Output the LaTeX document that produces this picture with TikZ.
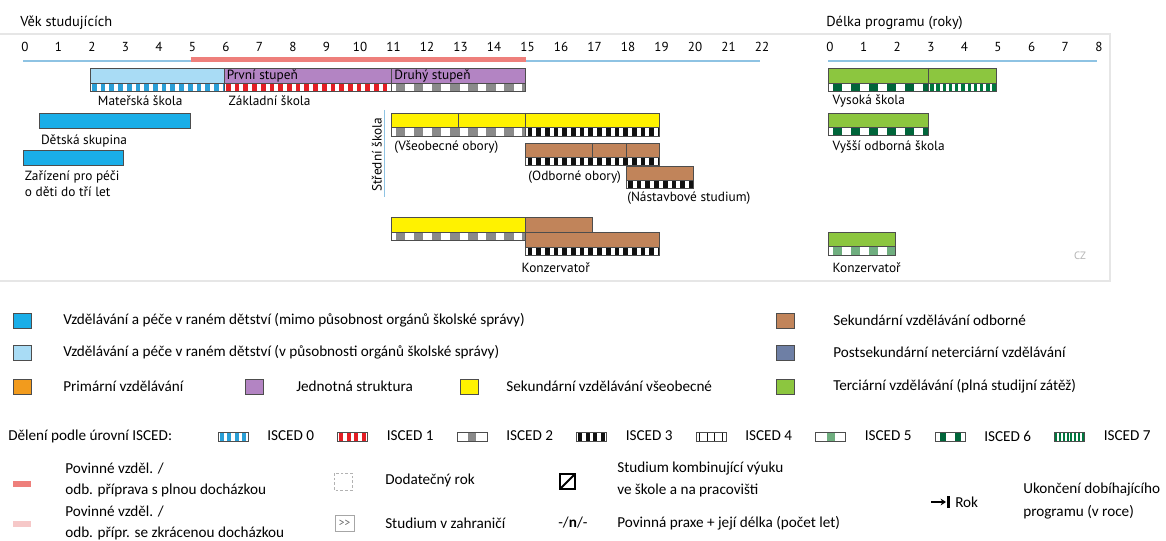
\documentclass[tikz,border=0pt]{standalone}
\usepackage{fontspec}
\setmainfont{PT Sans}
\newfontfamily\legfont{Carlito}
\usetikzlibrary{arrows.meta}

\definecolor{ececout}{HTML}{1AAEE8}
\definecolor{ececin}{HTML}{A9DCF5}
\definecolor{single}{HTML}{B384C3}
\definecolor{secgen}{HTML}{FFF200}
\definecolor{secvoc}{HTML}{C1845A}
\definecolor{tert}{HTML}{8CC63F}
\definecolor{postsec}{HTML}{6E7FA5}
\definecolor{primary}{HTML}{F29B1D}
\definecolor{compfullc}{HTML}{EE7F7B}
\definecolor{comppartc}{HTML}{F6C8C8}
\definecolor{axisblue}{HTML}{8EC3E3}
\definecolor{barline}{HTML}{4D4D4D}
\definecolor{framegreyc}{HTML}{E6E6E6}
\definecolor{iscA}{HTML}{2A9FD6}
\definecolor{iscB}{HTML}{E31E24}
\definecolor{iscC}{HTML}{8A8A8A}
\definecolor{iscD}{HTML}{111111}
\definecolor{iscF}{HTML}{6FAE7F}
\definecolor{iscG}{HTML}{00653A}
\definecolor{iscH}{HTML}{00773F}

\newcommand{\chartfont}{\fontsize{10}{12}\selectfont}
\newcommand{\headfont}{\fontsize{10.8}{13}\selectfont}
\newcommand{\tickfont}{\fontsize{9.8}{11}\selectfont}
\newcommand{\legtext}{\legfont\fontsize{11.4}{13.5}\selectfont}

% ISCED stripe: x1, y1, x2, y2, colour, period, block width
\newcommand{\iscedbar}[7]{%
  \begin{scope}
    \clip (#1,#2) rectangle (#3,#4);
    \fill[white] (#1,#2) rectangle (#3,#4);
    \pgfmathtruncatemacro{\nblk}{((#3)-(#1))/(#6)+1}
    \foreach \blkidx in {0,...,\nblk}
      \fill[#5] ({(#1)+(#6)*\blkidx+((#6)-(#7))/2},#2) rectangle ({(#1)+(#6)*\blkidx+((#6)+(#7))/2},#4);
  \end{scope}
  \draw[bar] (#1,#2) rectangle (#3,#4);
}

\tikzset{
  bar/.style={draw=barline, line width=0.5pt},
  lbl/.style={anchor=west, inner sep=0.75pt, font=\chartfont},
  ticklbl/.style={inner sep=0.75pt, font=\tickfont},
  leg/.style={anchor=west, inner sep=0.75pt, font=\legtext},
  legbox/.style={draw=barline, line width=0.5pt},
  axisline/.style={draw=axisblue, line width=0.8pt},
  framegrey/.style={draw=framegreyc, line width=0.8pt},
}

\begin{document}
\begin{tikzpicture}[x=0.75pt,y=0.75pt,yscale=-1,xscale=1]
\useasboundingbox (0,0) rectangle (1166,541);

%Frame
\draw[framegrey] (0,34) -- (1110,34) -- (1110,281) -- (0,281);

% Headings
\node[lbl, font=\headfont] (agehead) at (19,23) {Věk studujících};
\node[lbl, font=\headfont] (durhead) at (825,23) {Délka programu (roky)};

%% Age of students (x in years)
\begin{scope}[shift={(23,0)},x=25.125pt]
\draw[axisline] (0,61) -- (22,61);
\draw[draw=compfullc, line width=3.5pt] (5,59.5) -- (15,59.5);
\foreach \a in {0,...,22}
  \node[ticklbl] (age\a) at (\a+0.06,47) {\a};

% Materska skola + Zakladni skola
\fill[ececin] (2,68) rectangle (6,83);
\draw[bar] (2,68) rectangle (6,83);
\iscedbar{2}{83}{6}{91}{iscA}{0.26}{0.14}
\fill[single] (6,68) rectangle (15,83);
\draw[bar] (6,68) rectangle (15,83);
\draw[bar] (11,68) -- (11,83);
\iscedbar{6}{83}{11}{91}{iscB}{0.26}{0.14}
\iscedbar{11}{83}{15}{91}{iscC}{0.54}{0.28}
\node[lbl] (prvni) at (6.05,75.5) {První stupeň};
\node[lbl] (druhy) at (11.05,75.5) {Druhý stupeň};
\node[lbl] (matlbl) at (2.2,101) {Mateřská škola};
\node[lbl] (zaklbl) at (6.1,101) {Základní škola};

% Detska skupina
\fill[ececout] (0.5,113) rectangle (5,128);
\draw[bar] (0.5,113) rectangle (5,128);
\node[lbl] (dsklbl) at (0.5,141) {Dětská skupina};

% Zarizeni pro peci o deti
\fill[ececout] (0,150) rectangle (3,165);
\draw[bar] (0,150) rectangle (3,165);
\node[lbl] (zarlbl) at (0.02,177) {Zařízení pro péči};
\node[lbl] (zarlblb) at (0.02,192) {o děti do tří let};

% Stredni skola
\draw[axisline] (10.8,110) -- (10.8,197);
\node[font=\chartfont, rotate=90, inner sep=0.75pt] (ssklbl) at (10.56,155) {Střední škola};

\fill[secgen] (11,113) rectangle (19,127);
\draw[bar] (11,113) rectangle (19,127);
\draw[bar] (13,113) -- (13,127);
\draw[bar] (15,113) -- (15,127);
\iscedbar{11}{127}{15}{136}{iscC}{0.54}{0.28}
\iscedbar{15}{127}{19}{136}{iscD}{0.26}{0.14}
\node[lbl] (vseolbl) at (11.05,147) {(Všeobecné obory)};

\fill[secvoc] (15,143) rectangle (19,157);
\draw[bar] (15,143) rectangle (19,157);
\draw[bar] (17,143) -- (17,157);
\draw[bar] (18,143) -- (18,157);
\iscedbar{15}{157}{19}{165}{iscD}{0.26}{0.14}
\node[lbl] (odbolbl) at (15.05,177) {(Odborné obory)};

\fill[secvoc] (18,166) rectangle (20,180);
\draw[bar] (18,166) rectangle (20,180);
\iscedbar{18}{180}{20}{188}{iscD}{0.26}{0.14}
\node[lbl] (naslbl) at (18,198) {(Nástavbové studium)};

% Konzervator
\fill[secgen] (11,217) rectangle (15,232);
\draw[bar] (11,217) rectangle (15,232);
\iscedbar{11}{232}{15}{240}{iscC}{0.54}{0.28}
\fill[secvoc] (15,217) rectangle (17,232);
\draw[bar] (15,217) rectangle (17,232);
\fill[secvoc] (15,232) rectangle (19,247);
\draw[bar] (15,232) rectangle (19,247);
\iscedbar{15}{247}{19}{255}{iscD}{0.26}{0.14}
\node[lbl] (konzlbl) at (14.85,268) {Konzervatoř};
\end{scope}

%% Programme duration (x in years)
\begin{scope}[shift={(828,0)},x=25.2pt]
\draw[axisline] (0,61) -- (8,61);
\foreach \d in {0,...,8}
  \node[ticklbl] (dur\d) at (\d+0.06,47) {\d};

% Vysoka skola
\fill[tert] (0,68) rectangle (5,83);
\draw[bar] (0,68) rectangle (5,83);
\draw[bar] (3,68) -- (3,83);
\iscedbar{0}{83}{3}{91}{iscG}{0.54}{0.27}
\iscedbar{3}{83}{5}{91}{iscH}{0.185}{0.1}
\node[lbl] (vslbl) at (0.1,101) {Vysoká škola};

% Vyssi odborna skola
\fill[tert] (0,113) rectangle (3,127);
\draw[bar] (0,113) rectangle (3,127);
\iscedbar{0}{127}{3}{135}{iscG}{0.54}{0.27}
\node[lbl] (voslbl) at (0.1,147) {Vyšší odborná škola};

% Konzervator
\fill[tert] (0,232) rectangle (2,246);
\draw[bar] (0,232) rectangle (2,246);
\iscedbar{0}{246}{2}{255}{iscF}{0.54}{0.27}
\node[lbl] (konzlblb) at (0.1,268) {Konzervatoř};
\end{scope}

\node[font=\fontsize{8}{9}\selectfont, text=gray!60] (cz) at (1080,256) {CZ};

%% Legend: colours
\fill[ececout] (13,313) rectangle (31,328); \draw[legbox] (13,313) rectangle (31,328);
\node[leg] (lgA) at (62,320) {Vzdělávání a péče v raném dětství (mimo působnost orgánů školské správy)};
\fill[ececin] (13,345) rectangle (31,360); \draw[legbox] (13,345) rectangle (31,360);
\node[leg] (lgB) at (62,352) {Vzdělávání a péče v raném dětství (v působnosti orgánů školské správy)};
\fill[primary] (13,379) rectangle (31,394); \draw[legbox] (13,379) rectangle (31,394);
\node[leg] (lgC) at (62,386) {Primární vzdělávání};
\fill[single] (245,379) rectangle (263,394); \draw[legbox] (245,379) rectangle (263,394);
\node[leg] (lgD) at (295,386) {Jednotná struktura};
\fill[secgen] (460,379) rectangle (478,394); \draw[legbox] (460,379) rectangle (478,394);
\node[leg] (lgE) at (505,386) {Sekundární vzdělávání všeobecné};
\fill[secvoc] (776,313) rectangle (794,328); \draw[legbox] (776,313) rectangle (794,328);
\node[leg] (lgF) at (832,320) {Sekundární vzdělávání odborné};
\fill[postsec] (776,345) rectangle (794,360); \draw[legbox] (776,345) rectangle (794,360);
\node[leg] (lgG) at (832,352) {Postsekundární neterciární vzdělávání};
\fill[tert] (776,379) rectangle (794,394); \draw[legbox] (776,379) rectangle (794,394);
\node[leg] (lgH) at (832,386) {Terciární vzdělávání (plná studijní zátěž)};

%% Legend: ISCED levels
\node[leg] (iscedhead) at (7,436) {Dělení podle úrovní ISCED:};
\foreach \k/\col/\per/\blk in {0/iscA/7.5/3.8, 1/iscB/7.5/3.8, 2/iscC/30/8, 3/iscD/7.5/3.8,
                               4/iscD/7.5/1, 5/iscF/30/8, 6/iscG/15/6, 7/iscH/3.75/2}{
  \pgfmathsetmacro\lx{218+119.5*\k}
  \pgfmathsetmacro\rx{\lx+30}
  \iscedbar{\lx}{432}{\rx}{441}{\col}{\per}{\blk}
  \node[leg] (isc\k) at (\lx+48,436) {ISCED \k};
}

%% Legend: other symbols
\fill[compfullc] (13,481) rectangle (31,487);
\node[leg] (povA) at (64,469) {Povinné vzděl. /};
\node[leg] (povAb) at (64,490) {odb. příprava s plnou docházkou};
\fill[comppartc] (13,521) rectangle (31,527);
\node[leg] (povB) at (64,512) {Povinné vzděl. /};
\node[leg] (povBb) at (64,533) {odb. přípr. se zkrácenou docházkou};

\draw[draw=gray!60, dash pattern=on 2pt off 1.5pt] (334,473) rectangle (352,490);
\node[leg] (dodrok) at (384,480) {Dodatečný rok};
\draw[draw=gray!70, line width=0.5pt] (335,515) rectangle (354,531);
\node[font=\fontsize{8.5}{9}\selectfont, text=gray!80!black, inner sep=0pt] (abrsym) at (344.5,523) {>\kern0pt>};
\node[leg] (abroad) at (384,523) {Studium v zahraničí};

\draw[line width=1.5pt] (560,474) rectangle (575,489);
\draw[line width=1.5pt] (560,489) -- (575,474);
\node[leg] (kombA) at (616,469) {Studium kombinující výuku};
\node[leg] (kombB) at (616,490) {ve škole a na pracovišti};
\node[leg] (praxsym) at (557,523) {-/\textbf{n}/-};
\node[leg] (prax) at (616,523) {Povinná praxe + její délka (počet let)};

\coordinate (rokA) at (931,502);
\coordinate (rokB) at (946,502);
\draw[line width=1.2pt, -{Stealth[length=4pt,width=5pt]}] (rokA) -- (rokB);
\draw[line width=1.8pt] (948.5,496) -- (948.5,508);
\node[leg] (rok) at (954,502) {Rok};
\node[leg] (ukonA) at (1022,490) {Ukončení dobíhajícího};
\node[leg] (ukonB) at (1022,512) {programu (v roce)};

\end{tikzpicture}
\end{document}
